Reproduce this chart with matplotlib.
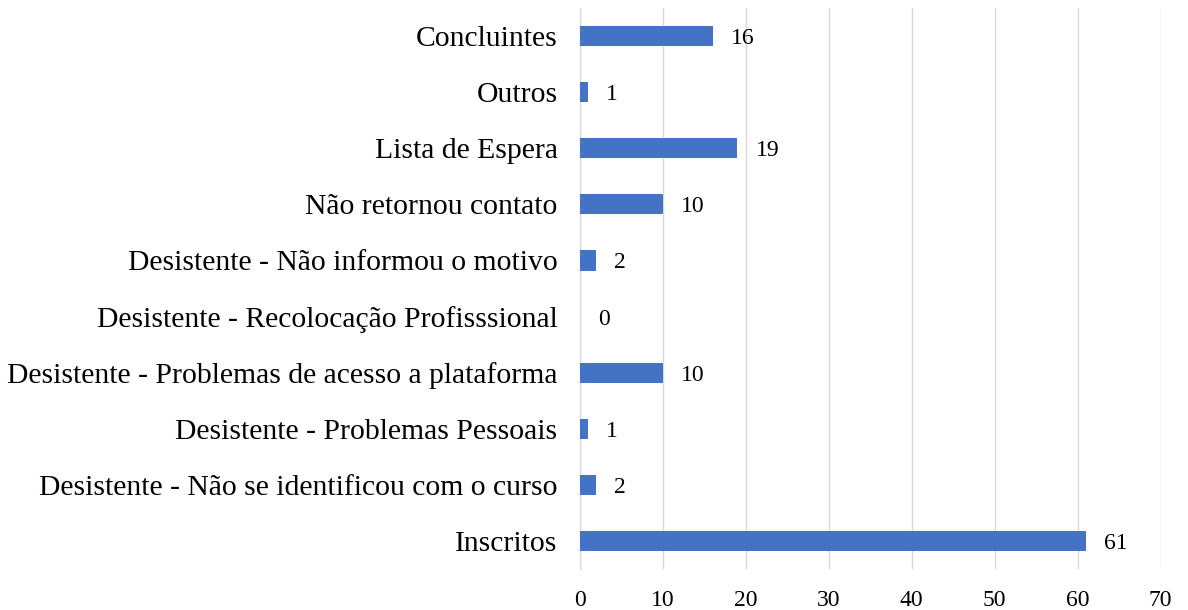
import matplotlib.pyplot as plt

plt.rcParams['font.family'] = ['Liberation Serif', 'DejaVu Serif']

categories = [
    'Inscritos',
    'Desistente - Não se identificou com o curso',
    'Desistente - Problemas Pessoais',
    'Desistente - Problemas de acesso a plataforma',
    'Desistente - Recolocação Profisssional',
    'Desistente - Não informou o motivo',
    'Não retornou contato',
    'Lista de Espera',
    'Outros',
    'Concluintes',
]
values = [61, 2, 1, 10, 0, 2, 10, 19, 1, 16]
xticks = [0, 10, 20, 30, 40, 50, 60, 70]

fig = plt.figure(figsize=(11.88, 6.10), dpi=100)
ax = fig.add_axes([0.488, 0.067, 0.489, 0.920])

ypos = range(len(categories))
ax.barh(ypos, values, height=0.36, color='#4472C4', zorder=3)
for y, v in zip(ypos, values):
    ax.annotate(str(v), (v, y), xytext=(13, 0), textcoords='offset points',
                va='center_baseline', ha='left', fontsize=17)

ax.set_xlim(0, 70)
ax.set_ylim(-0.5, len(categories) - 0.5)
ax.set_xticks(xticks)
ax.set_yticks(list(ypos))
ax.set_yticklabels(categories, fontsize=21.3)
ax.tick_params(axis='x', labelsize=17, length=0, pad=15)
ax.tick_params(axis='y', length=0, pad=16)
ax.grid(axis='x', color='#d9d9d9', linewidth=1, zorder=0)
for s in ['top', 'right', 'bottom']:
    ax.spines[s].set_visible(False)
ax.spines['left'].set_color('#d9d9d9')

fig.savefig('out.png', dpi=100)
